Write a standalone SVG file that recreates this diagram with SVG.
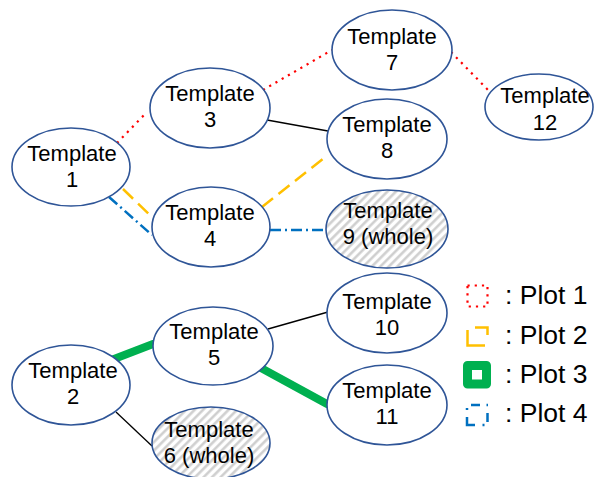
<svg xmlns="http://www.w3.org/2000/svg" width="595" height="477" viewBox="0 0 595 477">
  <defs>
    <pattern id="hatch" patternUnits="userSpaceOnUse" width="6" height="6" patternTransform="rotate(45)">
      <rect width="6" height="6" fill="#ffffff"/>
      <line x1="1.4" y1="0" x2="1.4" y2="6" stroke="#cccccc" stroke-width="2.4"/>
    </pattern>
    <style>
      .node { fill: #ffffff; stroke: #2f5597; stroke-width: 1.6; }
      .whole { fill: url(#hatch); stroke: #2f5597; stroke-width: 1.6; }
      .lbl { font-family: "Liberation Sans", Arial, sans-serif; font-size: 22px; fill: #000000; text-anchor: middle; }
      .leg { font-family: "Liberation Sans", Arial, sans-serif; font-size: 26.5px; fill: #000000; }
      .p1 { fill: none; stroke: #ff0000; stroke-width: 2.2; stroke-dasharray: 2.2 5; }
      .p2 { fill: none; stroke: #ffc000; stroke-width: 2.5; stroke-dasharray: 14 7; }
      .p3 { fill: none; stroke: #00b050; stroke-width: 8; stroke-linecap: round; }
      .p4 { fill: none; stroke: #0070c0; stroke-width: 2.5; stroke-dasharray: 11 4 2 4; }
      .plain { fill: none; stroke: #000000; stroke-width: 1.3; }
    </style>
  </defs>

  <!-- connectors -->
  <g id="connectors">
    <line class="p1" x1="117" y1="143" x2="146" y2="113"/>
    <line class="p1" x1="263" y1="90" x2="332" y2="50"/>
    <line class="p1" x1="451" y1="52" x2="490" y2="92"/>
    <line class="plain" x1="267" y1="120" x2="328" y2="131"/>
    <line class="p2" x1="123" y1="189" x2="153" y2="218"/>
    <line class="p2" x1="262" y1="207" x2="328" y2="155"/>
    <line class="p4" x1="109" y1="197" x2="152" y2="235"/>
    <line class="p4" x1="270" y1="230" x2="327" y2="230"/>
    <line class="p3" x1="114" y1="359" x2="153" y2="344"/>
    <line class="p3" x1="261" y1="368" x2="327" y2="404"/>
    <line class="plain" x1="268" y1="329" x2="328" y2="312"/>
    <line class="plain" x1="116" y1="412" x2="152" y2="446"/>
  </g>

  <!-- nodes -->
  <g id="template1">
    <ellipse class="node" cx="71" cy="167" rx="59" ry="39"/>
    <text class="lbl" x="72" y="161">Template</text>
    <text class="lbl" x="72" y="187">1</text>
  </g>
  <g id="template3">
    <ellipse class="node" cx="210" cy="108" rx="60" ry="40"/>
    <text class="lbl" x="210" y="101">Template</text>
    <text class="lbl" x="210" y="127">3</text>
  </g>
  <g id="template7">
    <ellipse class="node" cx="392" cy="50" rx="60" ry="40"/>
    <text class="lbl" x="392" y="44">Template</text>
    <text class="lbl" x="392" y="70">7</text>
  </g>
  <g id="template8">
    <ellipse class="node" cx="387" cy="139" rx="60" ry="40"/>
    <text class="lbl" x="387" y="132">Template</text>
    <text class="lbl" x="387" y="158">8</text>
  </g>
  <g id="template12">
    <ellipse class="node" cx="539" cy="107" rx="54" ry="33"/>
    <text class="lbl" x="545" y="103">Template</text>
    <text class="lbl" x="545" y="130">12</text>
  </g>
  <g id="template4">
    <ellipse class="node" cx="211" cy="227" rx="59" ry="40"/>
    <text class="lbl" x="210" y="220">Template</text>
    <text class="lbl" x="210" y="246">4</text>
  </g>
  <g id="template9">
    <ellipse class="whole" cx="387" cy="229" rx="61" ry="39"/>
    <text class="lbl" x="388" y="218">Template</text>
    <text class="lbl" x="388" y="244">9 (whole)</text>
  </g>
  <g id="template2">
    <ellipse class="node" cx="71" cy="385" rx="59" ry="40"/>
    <text class="lbl" x="73" y="378">Template</text>
    <text class="lbl" x="73" y="404">2</text>
  </g>
  <g id="template5">
    <ellipse class="node" cx="213" cy="346" rx="60" ry="39"/>
    <text class="lbl" x="214" y="339">Template</text>
    <text class="lbl" x="214" y="365">5</text>
  </g>
  <g id="template6">
    <ellipse class="whole" cx="211" cy="443" rx="59" ry="36"/>
    <text class="lbl" x="209" y="437">Template</text>
    <text class="lbl" x="209" y="463">6 (whole)</text>
  </g>
  <g id="template10">
    <ellipse class="node" cx="387" cy="313" rx="60" ry="40"/>
    <text class="lbl" x="387" y="309">Template</text>
    <text class="lbl" x="387" y="335">10</text>
  </g>
  <g id="template11">
    <ellipse class="node" cx="387" cy="405" rx="60" ry="40"/>
    <text class="lbl" x="387" y="398">Template</text>
    <text class="lbl" x="387" y="424">11</text>
  </g>

  <!-- legend -->
  <g id="legend">
    <rect x="467.5" y="285.5" width="20" height="21" fill="none" stroke="#ff0000" stroke-width="2.2" stroke-dasharray="2.2 5"/>
    <text class="leg" x="505" y="304">: Plot 1</text>
    <path d="M475,327.5 H487.5 V335 M467.5,330 V345.5 H485" fill="none" stroke="#ffc000" stroke-width="2.5"/>
    <text class="leg" x="505" y="343.5">: Plot 2</text>
    <rect x="467.5" y="365.5" width="19" height="18.5" fill="none" stroke="#00b050" stroke-width="9" stroke-linejoin="round"/>
    <text class="leg" x="505" y="383">: Plot 3</text>
    <path d="M467,408 V410 M471,405 H480 M486.5,405 H488 M487.5,413 V422 M482.5,425 H484.5 M475,425 H467 V417" fill="none" stroke="#0070c0" stroke-width="2.5"/>
    <text class="leg" x="505" y="422">: Plot 4</text>
  </g>
</svg>
